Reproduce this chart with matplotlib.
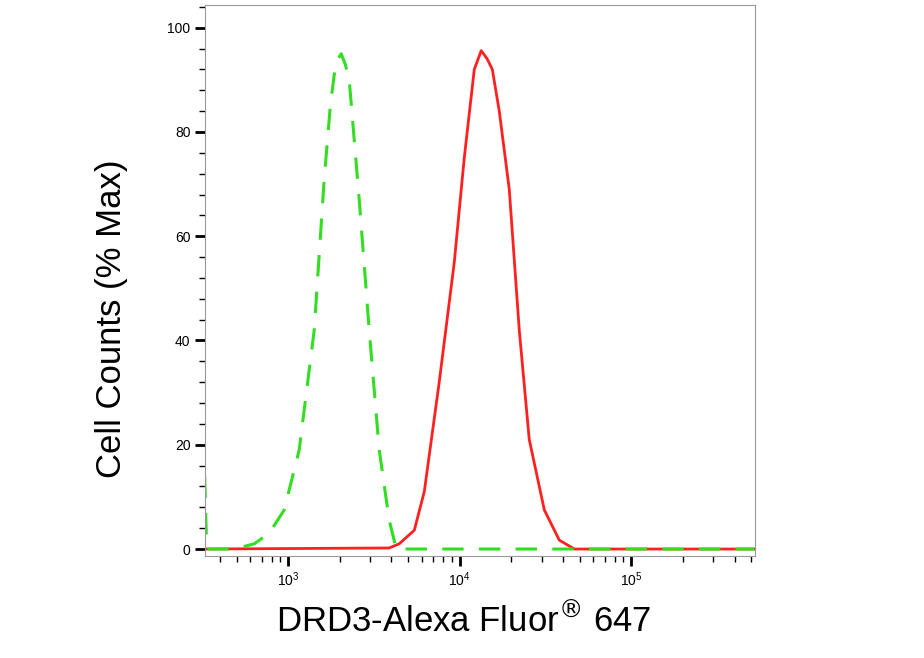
import matplotlib
matplotlib.use("Agg")
import matplotlib.pyplot as plt
from matplotlib.ticker import LogLocator, NullFormatter, MultipleLocator

plt.rcParams['font.family'] = ['Liberation Sans', 'DejaVu Sans']

green_x = [324, 326, 335, 484, 633, 774, 948, 1159, 1418, 1622, 1760, 1855, 1950, 2036, 2150, 2268, 2594, 2966, 3393, 3880, 4266, 10000, 100000, 520000]
green_y = [0, 14, 0, 0, 1, 3, 7.5, 19, 42, 71, 85, 91, 94, 95, 93, 90, 67, 42, 19, 5.5, 0, 0, 0, 0]
red_x = [324, 3880, 4436, 5433, 6212, 7590, 9290, 10620, 12150, 13340, 14450, 15480, 16990, 19430, 22220, 25410, 31100, 38030, 46560, 520000]
red_y = [0, 0.2, 1, 3.6, 11, 32, 55, 75, 92, 95.6, 94, 92, 84, 69, 42, 21, 7.5, 1.7, 0, 0]

fig = plt.figure(figsize=(9.24, 6.58), dpi=100)
ax = fig.add_axes([0.222, 0.155, 0.595, 0.837])
ax.plot(red_x, red_y, color='#ff2020', lw=2)
ax.plot(green_x, green_y, color='#33dd22', lw=2.2, dashes=(7, 5))
ax.set_xscale('log')
ax.set_xlim(328, 525000)
ax.set_ylim(-1.34, 104.3)
ax.xaxis.set_major_locator(LogLocator(base=10, numticks=10))
ax.xaxis.set_minor_locator(LogLocator(base=10, subs=range(2, 10), numticks=20))
ax.xaxis.set_minor_formatter(NullFormatter())
ax.yaxis.set_major_locator(MultipleLocator(20))
ax.yaxis.set_minor_locator(MultipleLocator(4))
ax.tick_params(axis='both', which='major', length=7, width=2, labelsize=10, direction='out')
ax.tick_params(axis='both', which='minor', length=4, width=1, direction='out')
for s in ax.spines.values():
    s.set_color('#999999')
ax.set_xlabel('DRD3-Alexa Fluor$^{\\circledR}$ 647', fontsize=25)
ax.set_ylabel('Cell Counts (% Max)', fontsize=25)
ax.xaxis.set_label_coords(0.47, -0.085)
ax.yaxis.set_label_coords(-0.14, 0.43)
fig.savefig('out.png', dpi=100)
